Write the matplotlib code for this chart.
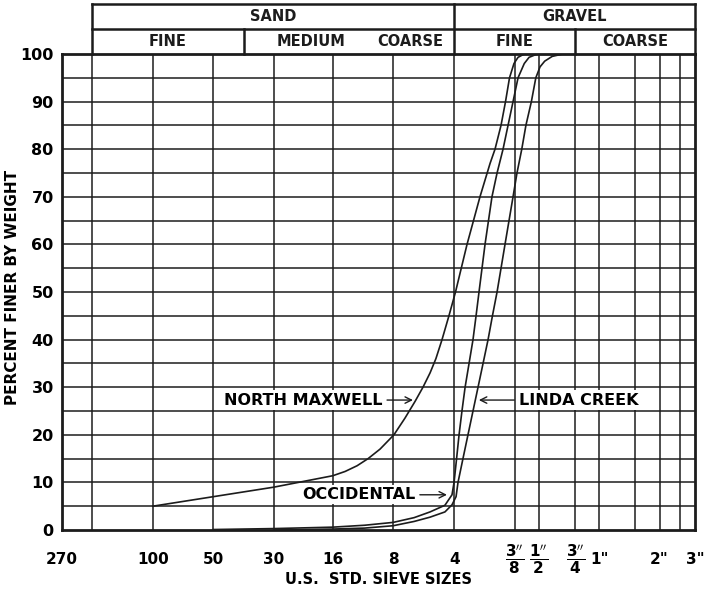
import numpy as np
import matplotlib
matplotlib.use("Agg")
import matplotlib.pyplot as plt
import matplotlib.transforms as mtransforms

plt.rcParams['font.family'] = ['DejaVu Sans']
plt.rcParams['font.weight'] = 'bold'
plt.rcParams['mathtext.default'] = 'bf'

# sieve openings (mm) used for the vertical rulings
grid_sizes = [0.075, 0.15, 0.30, 0.60, 1.18, 2.36, 4.75, 9.5, 12.5, 19.0, 25.0, 37.5, 50.0, 63.0]
tick_sizes = [0.053, 0.15, 0.30, 0.60, 1.18, 2.36, 4.75, 9.5, 12.5, 19.0, 25.0, 50.0, 75.0]
tick_labels = ['270', '100', '50', '30', '16', '8', '4',
               r"$\dfrac{3''}{8}$", r"$\dfrac{1''}{2}$", r"$\dfrac{3''}{4}$",
               '1"', '2"', '3"']

# gradation curves (sieve opening mm, percent finer)
nm_size = [0.15, 0.30, 0.60, 1.18, 1.36, 1.56, 1.77, 2.03, 2.38, 2.70, 3.03, 3.32,
           3.60, 3.85, 4.13, 4.47, 4.82, 5.50, 6.38, 7.16, 7.58, 8.12, 8.55, 8.95,
           9.42, 9.87, 10.6]
nm_pct = [5, 7, 9, 11.4, 12.3, 13.5, 15, 17, 20, 23.5, 27, 30,
          33, 36, 40, 45, 50, 60, 70, 77, 80, 85, 90, 95,
          98, 99.3, 100]

occ_size = [0.30, 0.60, 1.18, 1.70, 2.36, 3.00, 3.60, 4.27, 4.63, 4.74, 4.88, 5.02,
            5.19, 5.38, 5.63, 5.89, 6.10, 6.31, 6.76, 7.32, 7.76, 8.31, 8.80, 9.32,
            9.87, 10.6, 11.2, 12.3]
occ_pct = [0.1, 0.3, 0.6, 1.0, 1.6, 2.6, 3.8, 5.2, 7.4, 10, 15, 20,
           25, 30, 35, 40, 45, 50, 60, 70, 75, 80, 85, 90,
           95, 98, 99.3, 100]

lc_size = [0.60, 1.18, 1.70, 2.36, 3.00, 3.60, 4.27, 4.63, 4.85, 4.96, 5.25, 5.56,
           5.89, 6.24, 6.61, 7.00, 7.36, 7.76, 8.50, 9.32, 9.75, 10.3, 10.8, 11.5,
           12.1, 12.7, 13.4, 14.6, 16.5]
lc_pct = [0.0, 0.2, 0.4, 0.9, 1.8, 2.7, 3.8, 5.3, 7, 10, 15, 20,
          25, 30, 35, 40, 45, 50, 60, 70, 75, 80, 85, 90,
          95, 97.3, 98.5, 99.5, 100]

# header classes: (label, left size, right size, row)
header_cells = [('SAND', 0.075, 4.75, 0), ('GRAVEL', 4.75, 75.0, 0),
                ('FINE', 0.075, 0.425, 1), ('MEDIUM', 0.425, 2.0, 1), ('COARSE', 1.75, 4.75, 1),
                ('FINE', 4.75, 19.0, 1), ('COARSE', 19.0, 75.0, 1)]

ink = '#1c1c1c'

fig = plt.figure(figsize=(7.07, 5.98), dpi=100)
ax = fig.add_axes([0.0877, 0.1137, 0.8953, 0.796])
ax.set_xscale('log')
ax.set_xlim(0.053, 75.0)
ax.set_ylim(0, 100)

# rulings
for s in grid_sizes:
    ax.axvline(s, color=ink, lw=1.1, zorder=1)
for p in np.arange(5, 100, 5):
    ax.axhline(p, color=ink, lw=1.1, zorder=1)

ax.plot(nm_size, nm_pct, color=ink, lw=1.2, zorder=3)
ax.plot(occ_size, occ_pct, color=ink, lw=1.2, zorder=3)
ax.plot(lc_size, lc_pct, color=ink, lw=1.2, zorder=3)

for sp in ax.spines.values():
    sp.set_linewidth(2.0)
    sp.set_color(ink)

ax.set_xticks(tick_sizes)
ax.set_xticklabels(tick_labels)
ax.xaxis.set_minor_locator(matplotlib.ticker.NullLocator())
ax.tick_params(axis='x', length=0, pad=21, labelsize=11)
for lab in ax.get_xticklabels():
    lab.set_va('center')
ax.set_yticks(np.arange(0, 101, 10))
ax.tick_params(axis='y', length=0, pad=6, labelsize=11.5)

ax.set_ylabel('PERCENT FINER BY WEIGHT', fontsize=11, fontweight='bold')
ax.yaxis.set_label_coords(-0.066, 0.51)
ax.set_xlabel('U.S.  STD. SIEVE SIZES', fontsize=10.5, fontweight='bold')
ax.xaxis.set_label_coords(0.5, -0.088)

# header box above the plot
trans = mtransforms.blended_transform_factory(ax.transData, ax.transAxes)
y_top, y_mid = 1.105, 1.0525
kw = dict(color=ink, lw=1.8, transform=trans, clip_on=False)
ax.plot([0.075, 75.0], [y_top, y_top], **kw)
ax.plot([0.075, 75.0], [y_mid, y_mid], **kw)
ax.plot([0.075, 0.075], [1.0, y_top], **kw)
ax.plot([75.0, 75.0], [1.0, y_top], **kw)
ax.plot([4.75, 4.75], [1.0, y_top], **kw)
ax.plot([0.425, 0.425], [1.0, y_mid], **kw)
ax.plot([19.0, 19.0], [1.0, y_mid], **kw)
for name, lo, hi, row in header_cells:
    xc = np.sqrt(lo * hi)
    yc = 1.078 if row == 0 else 1.027
    ax.text(xc, yc, name, transform=trans, ha='center', va='center',
            fontsize=10.5, fontweight='bold', color=ink)

# curve labels
akw = dict(arrowstyle='->', color=ink, lw=1.0, shrinkA=2, shrinkB=0)
bkw = dict(fc='white', ec='none', pad=1.5)
ax.annotate('NORTH MAXWELL', xy=(2.96, 27.3), xytext=(2.08, 27.3), ha='right', va='center',
            fontsize=11.5, fontweight='bold', arrowprops=akw, bbox=bkw)
ax.annotate('LINDA CREEK', xy=(6.3, 27.3), xytext=(10.0, 27.3), ha='left', va='center',
            fontsize=11.5, fontweight='bold', arrowprops=akw, bbox=bkw)
ax.annotate('OCCIDENTAL', xy=(4.37, 7.4), xytext=(3.03, 7.4), ha='right', va='center',
            fontsize=11.5, fontweight='bold', arrowprops=akw, bbox=bkw)

fig.savefig('out.png', dpi=100, facecolor='white')
